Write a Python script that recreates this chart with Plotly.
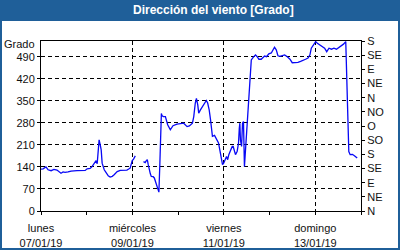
import pandas as pd
import plotly.graph_objects as go

start = pd.Timestamp("2019-01-07 00:00")
# hours since start (None-valued point marks a gap)
hours = [0, 1.1, 2.6, 3.7, 5.3, 6.8, 8.4, 10.5, 11.6, 12.6, 14.2, 15.8, 18.9, 23.2, 24.2,
         25.8, 26.8, 27.9, 28.9, 29.5, 30.0, 30.5, 31.1, 31.6, 32.1, 32.6, 33.2, 34.2, 35.3,
         36.3, 37.4, 38.4, 40.0, 41.6, 43.2, 45.1, 46.8, 47.4, 47.9, 48.6, 49.5,
         52.0,
         53.8, 54.7, 55.3, 55.8, 56.3, 56.8, 57.4, 57.9, 58.9, 59.5, 60.0, 60.5, 61.1, 61.6,
         61.9, 62.4, 62.8, 63.2, 63.5, 64.2, 65.3, 66.5, 67.9, 69.3, 71.4, 74.1, 74.9, 76.7,
         77.9, 79.5, 80.2, 81.0, 81.6, 82.3, 82.8, 83.7, 84.7, 85.8, 86.8, 87.5, 88.3, 89.0,
         89.5, 90.0, 91.1, 92.1, 93.2, 93.7, 94.2, 94.7, 95.3, 95.9, 96.7, 97.4, 98.0, 98.6,
         99.5, 100.4, 100.9, 101.4, 102.1, 103.0, 103.7, 104.1, 104.4, 104.7, 105.3, 105.8,
         106.3, 106.8, 107.4, 107.9, 108.4, 108.9, 109.5, 110.0, 110.4, 111.4, 112.6, 113.5,
         114.4, 115.6, 116.7, 117.4, 118.4, 119.6, 120.9, 121.9, 122.6, 123.5, 124.4, 125.4,
         126.7, 127.9, 129.3, 130.7, 131.9, 133.7, 134.9, 136.3, 137.7, 138.9, 140.2, 141.2,
         141.9, 143.0, 144.2, 145.1, 146.5, 147.7, 148.9, 150.0, 151.2, 152.5, 153.8, 155.1,
         155.9, 157.4, 158.8, 160.0, 160.4, 160.9, 161.3, 161.6, 162.3, 163.5, 164.7, 166.0]
direction = [133, 134, 140, 131, 128, 132, 130, 120, 124, 123, 124, 127, 128, 129, 134,
             135, 141, 152, 160, 150, 194, 226, 210, 194, 152, 138, 131, 122, 112,
             108, 110, 115, 125, 129, 130, 130, 136, 147, 160, 165, 175,
             None,
             157, 154, 160, 163, 147, 131, 118, 110, 109, 105, 94, 90, 78, 68,
             60, 150, 250, 310, 303, 300, 300, 274, 258, 271, 276, 277, 279, 268,
             270, 279, 300, 343, 358, 337, 311, 321, 332, 343, 351, 343, 321, 290,
             255, 237, 240, 228, 216, 200, 184, 163, 147, 152, 163, 173, 163, 179,
             192, 205, 205, 189, 179, 190, 216, 263, 279, 226, 205, 279,
             284, 141, 194, 247, 290, 332, 374, 416, 480, 488, 496, 490,
             482, 482, 490, 492, 490, 499, 502, 512, 520, 512, 493, 491,
             494, 496, 490, 482, 471, 471, 472, 475, 480, 482, 486, 496,
             517, 527, 538, 533, 527, 522, 517, 506, 517, 514, 517, 514,
             517, 524, 530, 538, 459, 364, 268, 189, 179, 180, 175, 168]

left_ticks = [0, 70, 140, 210, 280, 350, 420, 490]
right_ticks = [0, 45, 90, 135, 180, 225, 270, 315, 360, 405, 450, 495, 540]
right_labels = ["N", "NE", "E", "SE", "S", "SO", "O", "NO", "N", "NE", "E", "SE", "S"]
x_ticks = ["2019-01-07", "2019-01-09", "2019-01-11", "2019-01-13"]
x_labels = ["lunes<br>07/01/19", "miércoles<br>09/01/19", "viernes<br>11/01/19", "domingo<br>13/01/19"]

times = [start + pd.Timedelta(hours=h) for h in hours]

FONT = "Liberation Sans"
BLUE = "#1f5f99"

fig = go.Figure()
fig.add_trace(go.Scatter(x=times, y=direction, mode="lines",
                         line=dict(color="#0808f5", width=1.3),
                         connectgaps=False, showlegend=False, hoverinfo="skip"))
fig.add_trace(go.Scatter(x=[times[0]], y=[None], yaxis="y2", showlegend=False,
                         hoverinfo="skip"))

fig.update_layout(
    width=400, height=250,
    margin=dict(l=41, r=39, t=41, b=39, autoexpand=False),
    paper_bgcolor=BLUE, plot_bgcolor="white",
    font=dict(family=FONT, size=11, color="#111"),
    xaxis=dict(range=["2019-01-07", "2019-01-14"], type="date", automargin=False,
               tickvals=x_ticks, ticktext=x_labels, ticklabelstandoff=4,
               showgrid=True, gridcolor="black", griddash="4px,3px", gridwidth=1,
               showline=True, linecolor="black", linewidth=1, mirror=True,
               ticks="outside", ticklen=3, tickcolor="black",
               minor=dict(dtick=86400000, ticks="outside", ticklen=3, tickcolor="black", showgrid=False),
               zeroline=False, tickfont=dict(size=11)),
    yaxis=dict(range=[0, 540], tickvals=left_ticks, automargin=False,
               showgrid=True, gridcolor="black", griddash="4px,3px", gridwidth=1,
               showline=True, linecolor="black", linewidth=1, mirror=True,
               ticks="outside", ticklen=3, tickcolor="black", zeroline=False,
               tickfont=dict(size=11)),
    yaxis2=dict(range=[0, 540], tickvals=right_ticks, ticktext=right_labels,
                overlaying="y", side="right", showgrid=False, zeroline=False,
                automargin=False,
                ticks="outside", ticklen=3, tickcolor="black", showline=False,
                tickfont=dict(size=11)),
    shapes=[dict(type="rect", xref="paper", yref="paper", layer="below",
                 x0=(2 - 41) / 320, x1=(398 - 41) / 320,
                 y0=(211 - 248) / 170, y1=(211 - 21) / 170,
                 fillcolor="white", line=dict(width=0))],
    annotations=[
        dict(text="<b>Dirección del viento [Grado]</b>", xref="paper", yref="paper",
             x=(213 - 41) / 320, y=(211 - 10.5) / 170, showarrow=False,
             font=dict(family=FONT, size=12, color="white"), xanchor="center", yanchor="middle"),
        dict(text="Grado", xref="paper", yref="paper", x=-4 / 320, y=(211 - 44) / 170,
             showarrow=False, xanchor="right", yanchor="middle",
             font=dict(family=FONT, size=11, color="#111")),
    ],
)

fig.write_html("out.html")
